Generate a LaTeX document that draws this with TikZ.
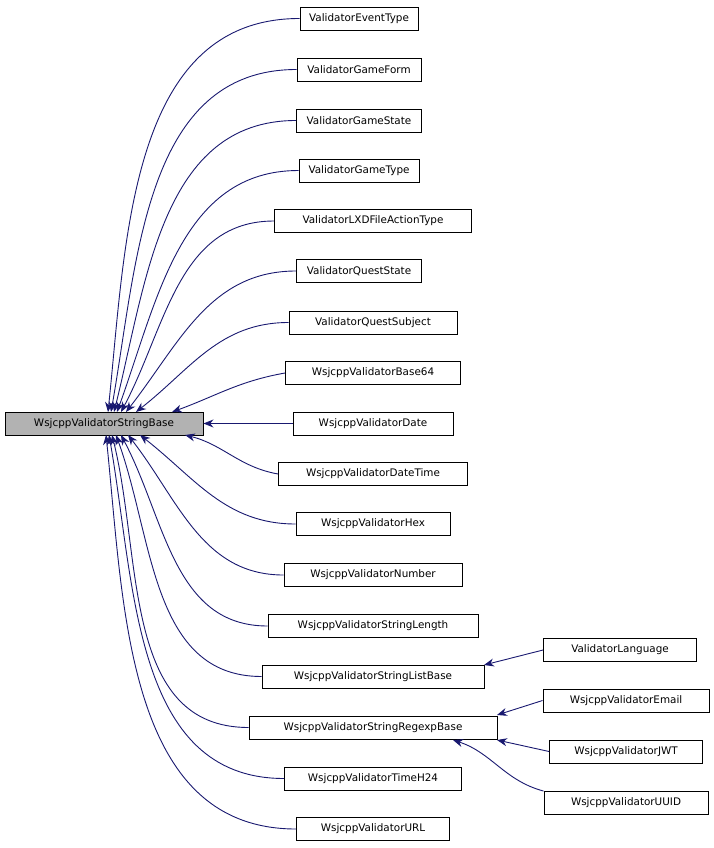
\documentclass[tikz,border=0pt]{standalone}
\usepackage{fontspec}
\setmainfont{DejaVu Sans}
\usetikzlibrary{arrows.meta}
\definecolor{edgeblue}{HTML}{191970}
\tikzset{cls/.style={draw, line width=0.9pt, fill=white, inner sep=0pt, minimum height=23pt, font=\fontsize{10.4}{12}\selectfont},
  inh/.style={edgeblue, line width=0.9pt, -{Stealth[length=10pt,width=8pt]}}}
\begin{document}
\begin{tikzpicture}[x=1pt, y=-1pt]
	\useasboundingbox (0,0) rectangle (713,848);
	\node[cls, fill=gray!60, minimum width=198pt] at (104,423.5) (Base) {WsjcppValidatorStringBase};
	\node[cls, minimum width=118pt] at (359,18.5) (EventType) {ValidatorEventType};
	\node[cls, minimum width=124pt] at (359,69.5) (GameForm) {ValidatorGameForm};
	\node[cls, minimum width=125pt] at (359,120.5) (GameState) {ValidatorGameState};
	\node[cls, minimum width=120pt] at (359,170.5) (GameType) {ValidatorGameType};
	\node[cls, minimum width=197pt] at (373,221) (LXD) {ValidatorLXDFileActionType};
	\node[cls, minimum width=125pt] at (359,271) (QuestState) {ValidatorQuestState};
	\node[cls, minimum width=168pt] at (373,322.5) (QuestSubject) {ValidatorQuestSubject};
	\node[cls, minimum width=175pt] at (373,373) (Base64) {WsjcppValidatorBase64};
	\node[cls, minimum width=160pt] at (373,423.5) (Date) {WsjcppValidatorDate};
	\node[cls, minimum width=189pt] at (373,474) (DateTime) {WsjcppValidatorDateTime};
	\node[cls, minimum width=154pt] at (373,524) (Hex) {WsjcppValidatorHex};
	\node[cls, minimum width=178pt] at (373,575) (Number) {WsjcppValidatorNumber};
	\node[cls, minimum width=210pt] at (373,626) (StrLength) {WsjcppValidatorStringLength};
	\node[cls, minimum width=222pt] at (373,676.5) (ListBase) {WsjcppValidatorStringListBase};
	\node[cls, minimum width=248pt] at (373,727.5) (RegexpBase) {WsjcppValidatorStringRegexpBase};
	\node[cls, minimum width=177pt] at (373,778.5) (TimeH) {WsjcppValidatorTimeH24};
	\node[cls, minimum width=153pt] at (373,829) (URL) {WsjcppValidatorURL};
	\node[cls, minimum width=153pt] at (620,650) (Language) {ValidatorLanguage};
	\node[cls, minimum width=166pt] at (626,700.5) (Email) {WsjcppValidatorEmail};
	\node[cls, minimum width=153pt] at (626,751.5) (JWT) {WsjcppValidatorJWT};
	\node[cls, minimum width=164pt] at (626,803) (UUID) {WsjcppValidatorUUID};
	% edges into the base class
	\draw[inh] (EventType.west) to[out=180, in=84] (108,412);
	\draw[inh] (GameForm.west) to[out=180, in=80] (111,412);
	\draw[inh] (GameState.west) to[out=180, in=76] (114,412);
	\draw[inh] (GameType.west) to[out=180, in=70] (117,412);
	\draw[inh] (LXD.west) to[out=180, in=62] (121,412);
	\draw[inh] (QuestState.west) to[out=180, in=52] (126,412);
	\draw[inh] (QuestSubject.west) to[out=180, in=38] (136,412);
	\draw[inh] (Base64.west) to[out=190, in=20] (172,412);
	\draw[inh] (Date.west) -- (Base.east);
	\draw[inh] (DateTime.west) to[out=170, in=-14] (185,435);
	\draw[inh] (Hex.west) to[out=180, in=-38] (140,435);
	\draw[inh] (Number.west) to[out=180, in=-52] (128,435);
	\draw[inh] (StrLength.west) to[out=180, in=-62] (121,435);
	\draw[inh] (ListBase.west) to[out=180, in=-70] (116,435);
	\draw[inh] (RegexpBase.west) to[out=180, in=-76] (112,435);
	\draw[inh] (TimeH.west) to[out=180, in=-80] (109,435);
	\draw[inh] (URL.west) to[out=180, in=-84] (106,435);
	% second level
	\draw[inh] (Language.west) -- (484,665);
	\draw[inh] (Email.west) -- (497,715);
	\draw[inh] (JWT.west) -- (497,740);
	\draw[inh] (UUID.north west) to[out=165, in=-18] (453,740);
\end{tikzpicture}
\end{document}
